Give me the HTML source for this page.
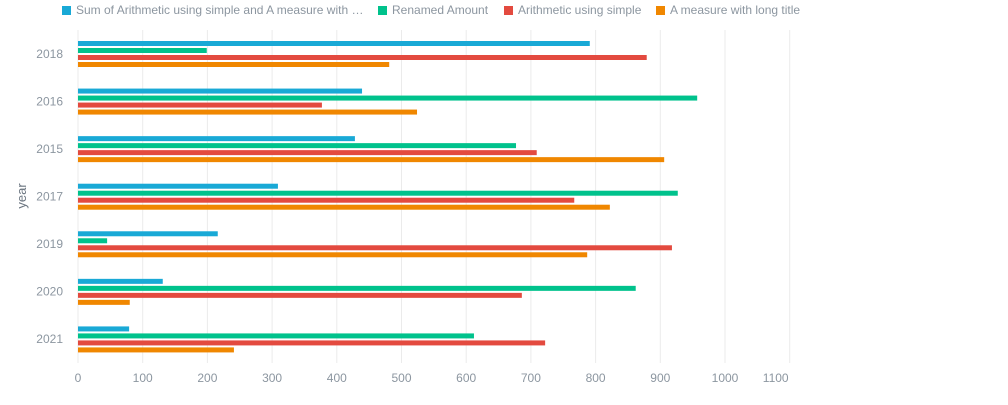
<!DOCTYPE html>
<html><head><meta charset="utf-8"><style>
body{margin:0;background:#fff;font-family:"Liberation Sans",sans-serif;}
svg text{font-family:"Liberation Sans",sans-serif;font-size:12px;fill:#8c96a0;}
</style></head><body>
<svg width="1008" height="400" id="c"></svg>
<script>
const categories=["2018","2016","2015","2017","2019","2020","2021"];
const seriesNames=["Sum of Arithmetic using simple and A measure with …","Renamed Amount","Arithmetic using simple","A measure with long title"];
const s1=[791,439,428,309,216,131,79];
const s2=[199,957,677,927,45,862,612];
const s3=[879,377,709,767,918,686,722];
const s4=[481,524,906,822,787,80,241];
const ticks=[0,100,200,300,400,500,600,700,800,900,1000,1100];
const colors=["#19a9d6","#00c28c","#e34a3f","#f08700"];
const svg=document.getElementById('c');const NS="http://www.w3.org/2000/svg";
function el(t,a,txt){const e=document.createElementNS(NS,t);for(const k in a)e.setAttribute(k,a[k]);if(txt!=null)e.textContent=txt;svg.appendChild(e);return e;}
const x0=78,scale=0.647,plotTop=30,band=47.57;
const X=v=>x0+v*scale;
const Y=i=>plotTop+i*band;
ticks.forEach(t=>{
 const g=el('line',{x1:X(t),x2:X(t),y1:30,y2:363,stroke:'#ebebeb'});
 
 
 const lx=t===1100?X(t)-14:X(t);
 const tx=el('text',{x:lx,y:382,'text-anchor':'middle'},t);
 
 
});
const series=[s1,s2,s3,s4];
categories.forEach((c,i)=>{
 const t=el('text',{x:63,y:Y(i)+band/2+4,'text-anchor':'end'},c);
 
 
 series.forEach((s,j)=>{
  const r=el('rect',{x:x0,y:Y(i)+11+j*7,width:X(s[i])-x0,height:5,fill:colors[j]});
  
  
 });
});
const yt=el('text',{x:0,y:0,transform:'translate(26,196) rotate(-90)','text-anchor':'middle',style:'font-size:13px;fill:#6b7580'},'year');


const lxs=[62,378,504,656];
seriesNames.forEach((n,j)=>{
 const r=el('rect',{x:lxs[j],y:6,width:9,height:9,fill:colors[j]});
 
 
 const t=el('text',{x:lxs[j]+14,y:14},n);
 
 
});
</script>
</body></html>
